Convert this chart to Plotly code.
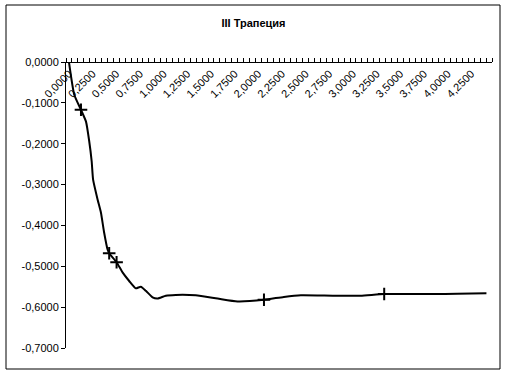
import plotly.graph_objects as go

# Line data (x in category units of 0.0625 step)
x_line = [0.000, 0.056, 0.127, 0.180, 0.214, 0.240, 0.255, 0.303, 0.338, 0.372,
          0.408, 0.425, 0.503, 0.566, 0.636, 0.706, 0.759, 0.812, 0.883, 0.935,
          1.023, 1.128, 1.339, 1.570, 1.780, 2.060, 2.270, 2.450, 2.800, 3.080,
          3.330, 3.850, 4.100, 4.410]
y_line = [0.000, -0.080, -0.117, -0.146, -0.194, -0.243, -0.288, -0.337, -0.369, -0.418,
          -0.459, -0.468, -0.490, -0.515, -0.536, -0.554, -0.550, -0.560, -0.576, -0.579,
          -0.572, -0.570, -0.571, -0.579, -0.586, -0.582, -0.575, -0.571, -0.572, -0.572,
          -0.568, -0.568, -0.567, -0.566]

# Marker points
x_mark = [0.127, 0.425, 0.503, 2.060, 3.330]
y_mark = [-0.117, -0.468, -0.490, -0.582, -0.568]

# Axis tick labels
x_tickvals = [0.0, 0.25, 0.5, 0.75, 1.0, 1.25, 1.5, 1.75, 2.0, 2.25, 2.5, 2.75,
              3.0, 3.25, 3.5, 3.75, 4.0, 4.25]
x_ticktext = ["0,0000", "0,2500", "0,5000", "0,7500", "1,0000", "1,2500", "1,5000",
              "1,7500", "2,0000", "2,2500", "2,5000", "2,7500", "3,0000", "3,2500",
              "3,5000", "3,7500", "4,0000", "4,2500"]
y_tickvals = [0.0, -0.1, -0.2, -0.3, -0.4, -0.5, -0.6, -0.7]
y_ticktext = ["0,0000", "-0,1000", "-0,2000", "-0,3000", "-0,4000", "-0,5000",
              "-0,6000", "-0,7000"]

step = 0.0625
font = dict(family="Liberation Sans, Arial, sans-serif", size=11, color="black")

fig = go.Figure()
fig.add_trace(go.Scatter(x=x_line, y=y_line, mode="lines",
                         line=dict(color="black", width=2, shape="spline", smoothing=0.5),
                         showlegend=False, hoverinfo="skip"))
fig.add_trace(go.Scatter(x=x_mark, y=y_mark, mode="markers",
                         marker=dict(symbol="cross-thin", size=9,
                                     line=dict(color="black", width=2)),
                         showlegend=False, hoverinfo="skip"))

fig.update_layout(
    width=507, height=374,
    margin=dict(l=66, r=15, t=62, b=26),
    paper_bgcolor="white", plot_bgcolor="white",
    font=font,
    title=dict(text="<b>III Трапеция</b>", x=0.5, xref="container", xanchor="center",
               y=1 - 23 / 374, yref="container", yanchor="middle",
               font=dict(family="Liberation Sans, Arial, sans-serif", size=11, color="black")),
    xaxis=dict(range=[-step / 2, 71.5 * step], anchor="free", position=1, side="bottom",
               tickmode="array", tickvals=x_tickvals, ticktext=x_ticktext,
               tickangle=-45, ticks="", showgrid=False, zeroline=False,
               showline=True, linecolor="black", linewidth=1,
               tickfont=font,
               minor=dict(tickmode="linear", tick0=-step / 2, dtick=step,
                          ticks="inside", ticklen=4, tickcolor="black", showgrid=False)),
    yaxis=dict(range=[-0.7, 0.0], domain=[0, 1], tickmode="array",
               tickvals=y_tickvals, ticktext=y_ticktext,
               ticks="outside", ticklen=4, tickcolor="black",
               showgrid=False, zeroline=False, showline=True,
               linecolor="black", linewidth=1, tickfont=font),
    shapes=[dict(type="rect", xref="paper", yref="paper",
                 x0=(6 - 66) / 426, x1=(500 - 66) / 426,
                 y0=(348 - 369) / 286, y1=(348 - 5) / 286,
                 line=dict(color="black", width=1), fillcolor="rgba(0,0,0,0)",
                 layer="below")],
)

fig.write_html("out.html")
